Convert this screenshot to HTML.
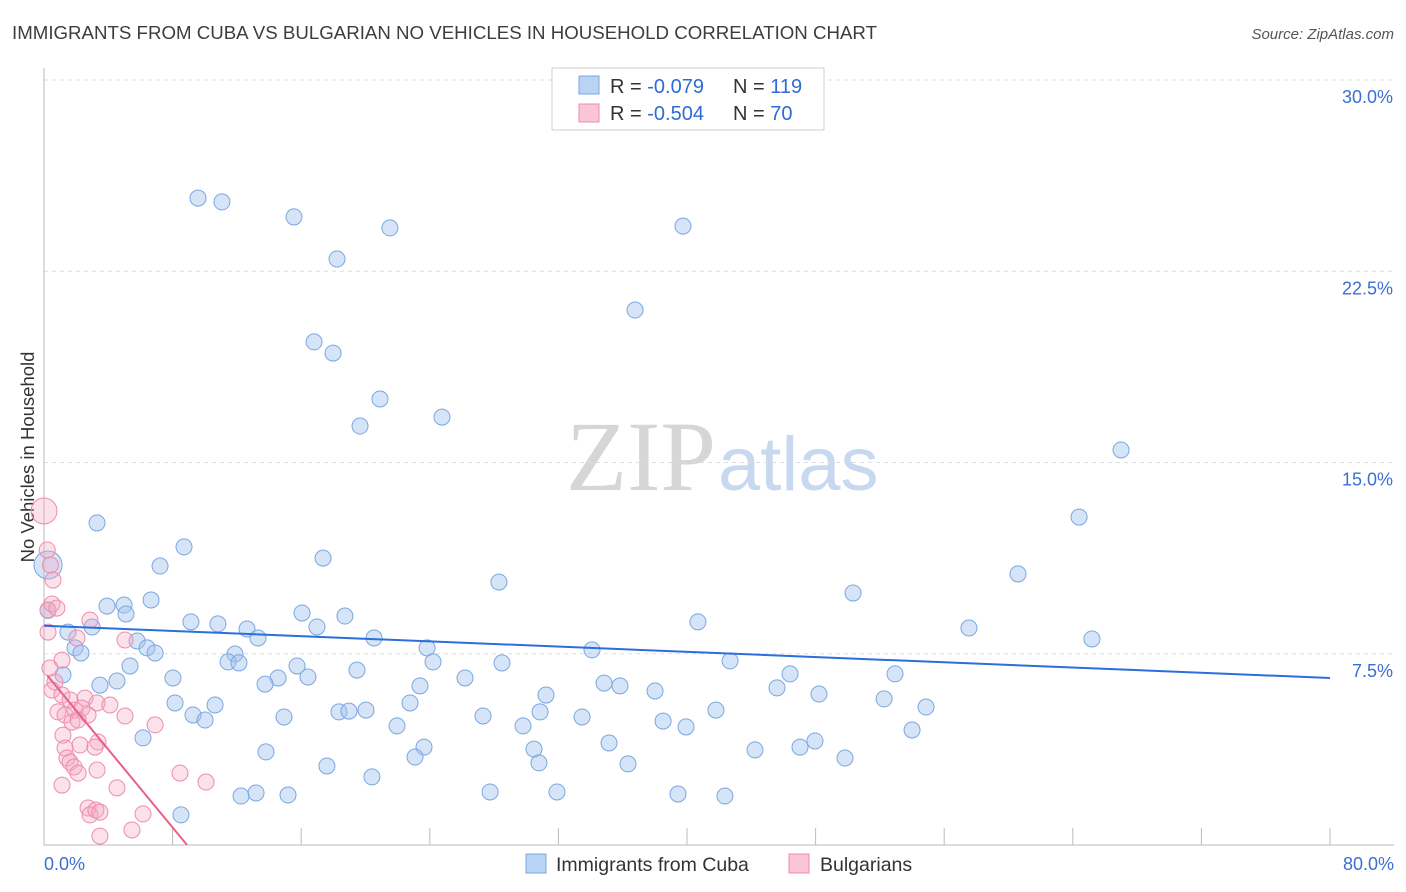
<!DOCTYPE html>
<html><head><meta charset="utf-8"><style>
body{margin:0;background:#fff;font-family:"Liberation Sans",sans-serif;}
svg{display:block}
</style></head><body>
<svg id="chart" width="1406" height="892" xmlns="http://www.w3.org/2000/svg">
<text x="12" y="39" font-size="18.5" fill="#3d3d3d" textLength="865" lengthAdjust="spacingAndGlyphs">IMMIGRANTS FROM CUBA VS BULGARIAN NO VEHICLES IN HOUSEHOLD CORRELATION CHART</text>
<text x="1394" y="39" font-size="15" fill="#555" font-style="italic" text-anchor="end">Source: ZipAtlas.com</text>
<text x="716" y="490" font-size="100" text-anchor="end" fill="#d6d6d6" font-family="Liberation Serif,serif">ZIP</text>
<text x="718" y="490" font-size="76" fill="#c7d8f0">atlas</text>
<text transform="translate(34,457) rotate(-90)" font-size="18.5" fill="#333" text-anchor="middle">No Vehicles in Household</text>
<g id="grid"></g><g id="axes"></g><g id="pts"></g><g id="lines"></g>
<g>
<rect x="552" y="68" width="272" height="62" fill="#fff" stroke="#ccc"/>
<rect x="579" y="76" width="20" height="18" fill="#b9d3f5" stroke="#7aa7e0"/>
<rect x="579" y="104" width="20" height="18" fill="#f9c6d6" stroke="#f08bab"/>
<text x="610" y="93" font-size="20" fill="#333">R = <tspan fill="#2e6bd6">-0.079</tspan></text>
<text x="733" y="93" font-size="20" fill="#333">N = <tspan fill="#2e6bd6">119</tspan></text>
<text x="610" y="120" font-size="20" fill="#333">R = <tspan fill="#2e6bd6">-0.504</tspan></text>
<text x="733" y="120" font-size="20" fill="#333">N = <tspan fill="#2e6bd6"> 70</tspan></text>
</g>
<g>
<rect x="526" y="854" width="20" height="19" fill="#b9d3f5" stroke="#7aa7e0"/>
<text x="556" y="871" font-size="19.5" fill="#333">Immigrants from Cuba</text>
<rect x="789" y="854" width="20" height="19" fill="#f9c6d6" stroke="#f08bab"/>
<text x="820" y="871" font-size="19.5" fill="#333">Bulgarians</text>
</g>
</svg>
<script>
const blueX=[9.58,11.07,15.55,21.52,39.75,18.23,36.77,16.80,17.98,20.90,24.76,19.66,67.00,3.30,64.39,8.71,17.36,7.22,60.59,28.30,50.33,6.66,3.92,4.98,5.10,16.05,18.72,9.14,10.82,12.63,16.98,2.99,1.49,13.31,5.79,40.68,57.54,65.19,20.53,23.83,1.93,2.30,6.41,6.91,11.88,11.45,12.13,5.35,34.09,15.74,28.49,24.20,42.68,19.47,1.18,8.02,46.41,52.94,26.19,14.56,16.42,13.75,4.54,3.48,23.39,34.84,35.83,38.01,45.60,31.23,48.21,52.26,8.15,10.64,22.77,54.87,9.27,10.02,14.93,18.35,18.97,20.03,27.31,30.86,33.47,38.51,41.80,29.80,39.94,21.96,6.16,54.00,35.15,23.64,30.48,44.23,47.03,47.96,13.81,23.08,30.79,49.83,36.33,17.60,20.40,27.75,31.91,12.26,13.19,15.18,39.44,42.36,8.52,0.25,0.25];
const blueY=[25.37,25.22,24.63,24.20,24.27,22.98,20.98,19.73,19.29,17.49,16.78,16.43,15.49,12.63,12.86,11.69,11.25,10.94,10.63,10.31,9.88,9.61,9.37,9.41,9.06,9.10,8.98,8.75,8.67,8.47,8.55,8.55,8.35,8.12,8.00,8.75,8.51,8.08,8.12,7.73,7.73,7.53,7.73,7.53,7.49,7.18,7.14,7.02,7.65,7.02,7.14,7.18,7.22,6.86,6.67,6.55,6.71,6.71,6.55,6.55,6.59,6.31,6.43,6.27,6.24,6.35,6.24,6.04,6.16,5.88,5.92,5.73,5.57,5.49,5.57,5.41,5.10,4.90,5.02,5.22,5.25,5.29,5.06,5.22,5.02,4.86,5.29,4.67,4.63,4.67,4.20,4.51,4.00,3.84,3.76,3.73,3.84,4.08,3.65,3.45,3.22,3.41,3.18,3.10,2.67,2.08,2.08,1.92,2.04,1.96,2.00,1.92,1.18,10.98,9.20];
const pinkX=[0,0.2,0.4,0.56,0.25,0.5,0.8,2.86,0.25,2.05,1.12,0.37,0.68,0.5,1.12,1.62,2.55,3.3,0.87,1.31,1.93,2.36,2.74,4.1,5.04,1.74,2.12,6.91,1.18,1.31,2.24,3.36,3.17,1.43,1.62,1.87,2.12,3.3,8.46,10.08,1.12,4.54,2.74,2.86,3.23,3.48,6.16,5.47,3.48,5.04];
const pinkY=[13.1,11.57,10.98,10.39,9.22,9.45,9.29,8.82,8.35,8.12,7.25,6.94,6.39,6.08,5.88,5.69,5.76,5.57,5.22,5.10,5.29,5.37,5.10,5.49,5.06,4.82,4.90,4.71,4.31,3.80,3.92,4.04,3.84,3.41,3.25,3.06,2.82,2.94,2.82,2.47,2.35,2.24,1.45,1.18,1.37,1.29,1.22,0.59,0.35,8.04];
const yTicks=[7.5,15,22.5,30];
const xTicks=[0,8,16,24,32,40,48,56,64,72,80];
const blueTrend=[[0,8.6],[80,6.55]];
const pinkTrend=[[0.2,6.65],[8.9,0]];
const sx=v=>44+v*16.075, sy=v=>845-v*25.5;
const NS='http://www.w3.org/2000/svg';
function mk(p,t,a){const e=document.createElementNS(NS,t);for(const k in a)e.setAttribute(k,a[k]);document.getElementById(p).appendChild(e);return e;}
yTicks.forEach(t=>{
 const g=mk('grid','line',{x1:44,x2:1394,y1:sy(t),y2:sy(t),stroke:'#ddd','stroke-dasharray':'4,4'});
 
 
 const l=mk('grid','text',{x:1393,y:sy(t)+23,'font-size':18,fill:'#3c6fd1','text-anchor':'end'});
 l.textContent=t.toFixed(1)+'%';
 
 
});
const ax=mk('axes','line',{x1:44,x2:1394,y1:845,y2:845,stroke:'#bbb'});


const ay=mk('axes','line',{x1:44,x2:44,y1:68,y2:845,stroke:'#bbb'});


xTicks.forEach(t=>{
 const k=mk('axes','line',{x1:sx(t),x2:sx(t),y1:828,y2:845,stroke:'#bbb'});
 
 
});
[[0,'start',44],[80,'end',1394]].forEach(([v,a,x])=>{
 const l=mk('axes','text',{x:x,y:870,'font-size':18,fill:'#3c6fd1','text-anchor':a});
 l.textContent=v.toFixed(1)+'%';
 
 
});
blueX.forEach((x,i)=>{
 const big=x<0.5&&blueY[i]>10.5;
 const c=mk('pts','circle',{cx:sx(x),cy:sy(blueY[i]),r:big?14:8,fill:'rgba(164,196,240,0.45)',stroke:'#7aa7e0','stroke-width':1});
 
 
});
pinkX.forEach((x,i)=>{
 const big=pinkY[i]>12;
 const c=mk('pts','circle',{cx:sx(x),cy:sy(pinkY[i]),r:big?13:8,fill:'rgba(244,170,195,0.35)',stroke:'#f08bab','stroke-width':1});
 
 
});
const bl=mk('lines','line',{x1:sx(blueTrend[0][0]),y1:sy(blueTrend[0][1]),x2:sx(blueTrend[1][0]),y2:sy(blueTrend[1][1]),stroke:'#2a6fdb','stroke-width':2});


const pl=mk('lines','line',{x1:sx(pinkTrend[0][0]),y1:sy(pinkTrend[0][1]),x2:sx(pinkTrend[1][0]),y2:sy(pinkTrend[1][1]),stroke:'#e8608a','stroke-width':2});


</script>
</body></html>
